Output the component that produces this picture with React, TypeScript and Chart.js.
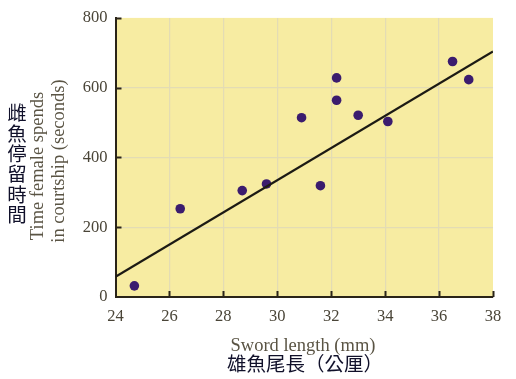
import React, { useEffect, useRef } from "react";
import { Chart, registerables } from "chart.js";

Chart.register(...registerables);

const swordLength = [24.7, 26.4, 28.7, 29.6, 30.9, 31.6, 32.2, 32.2, 33.0, 34.1, 36.5, 37.1];
const courtshipTime = [32, 253, 305, 324, 514, 319, 628, 564, 521, 503, 675, 623];
const fitX = [24, 38];
const fitY = [58, 704];
const xTicks = [24, 26, 28, 30, 32, 34, 36, 38];
const yTicks = [0, 200, 400, 600, 800];
const yTitleLines = ["Time female spends", "in courtship (seconds)"];
const xTitle = "Sword length (mm)";
const yTitleZh = "雌魚停留時間";
const xTitleZh = "雄魚尾長（公厘）";

const SERIF = "'Liberation Serif', 'DejaVu Serif', serif";
const CJK = "'Noto Sans CJK TC', 'Noto Sans CJK SC', sans-serif";

export default function App() {
  const ref = useRef<HTMLCanvasElement | null>(null);

  useEffect(() => {
    if (!ref.current) return;
    const decor = {
      id: "decor",
      beforeDraw(chart: any) {
        const { ctx, chartArea } = chart;
        ctx.save();
        ctx.fillStyle = "#f7eca2";
        ctx.fillRect(chartArea.left, chartArea.top, chartArea.right - chartArea.left, chartArea.bottom - chartArea.top);
        ctx.restore();
      },
      afterDraw(chart: any) {
        const { ctx, chartArea, scales } = chart;
        ctx.save();
        // inward tick marks
        ctx.strokeStyle = "#2a2418";
        ctx.lineWidth = 2;
        xTicks.forEach((v) => {
          if (v === xTicks[0]) return;
          const px = Math.round(scales.x.getPixelForValue(v)) + 0.5;
          ctx.beginPath();
          ctx.moveTo(px, chartArea.bottom);
          ctx.lineTo(px, chartArea.bottom - 6);
          ctx.stroke();
        });
        yTicks.forEach((v) => {
          if (v === yTicks[0]) return;
          const py = Math.round(scales.y.getPixelForValue(v)) + 0.5;
          ctx.beginPath();
          ctx.moveTo(chartArea.left, py);
          ctx.lineTo(chartArea.left + 6, py);
          ctx.stroke();
        });
        // titles
        ctx.fillStyle = "#5a5444";
        ctx.font = `18.5px ${SERIF}`;
        ctx.textAlign = "center";
        ctx.textBaseline = "middle";
        ctx.fillText(xTitle, 303, 346);
        ctx.save();
        ctx.translate(38, 166);
        ctx.rotate(-Math.PI / 2);
        ctx.fillText(yTitleLines[0], 0, 0);
        ctx.restore();
        ctx.save();
        ctx.translate(59, 161);
        ctx.rotate(-Math.PI / 2);
        ctx.fillText(yTitleLines[1], 0, 0);
        ctx.restore();
        // Chinese titles
        ctx.fillStyle = "#10102a";
        ctx.font = `19.5px ${CJK}`;
        ctx.fillText(xTitleZh, 305, 364);
        Array.from(yTitleZh).forEach((ch, i) => {
          ctx.fillText(ch, 17, 113 + i * 20.3);
        });
        ctx.restore();
      },
    };

    const chart = new Chart(ref.current, {
      type: "scatter",
      data: {
        datasets: [
          {
            type: "line",
            data: fitX.map((x, i) => ({ x, y: fitY[i] })),
            borderColor: "#1c1a14",
            borderWidth: 2.2,
            pointRadius: 0,
            fill: false,
          } as any,
          {
            data: swordLength.map((x, i) => ({ x, y: courtshipTime[i] })),
            backgroundColor: "#3b1c6e",
            borderColor: "#3b1c6e",
            borderWidth: 0,
            pointRadius: 4.8,
          },
        ],
      },
      options: {
        responsive: false,
        animation: false,
        layout: { padding: { left: 0, top: 16.5, right: 23, bottom: 0 } },
        plugins: { legend: { display: false }, tooltip: { enabled: false } },
        scales: {
          x: {
            type: "linear",
            min: 24,
            max: 38,
            afterBuildTicks: (s: any) => {
              s.ticks = xTicks.map((v) => ({ value: v }));
            },
            afterFit: (s: any) => {
              s.height = 82;
            },
            ticks: {
              padding: 10,
              color: "#4a4538",
              font: { family: SERIF, size: 16.5 },
              maxRotation: 0,
            },
            grid: {
              drawTicks: false,
              color: (c: any) =>
                c.tick && (c.tick.value === 38 || c.tick.value === 24) ? "rgba(0,0,0,0)" : "#e3dcb4",
              lineWidth: 1.2,
            },
            border: { display: true, color: "#2a2418", width: 2 },
          },
          y: {
            type: "linear",
            min: 0,
            max: 800,
            afterBuildTicks: (s: any) => {
              s.ticks = yTicks.map((v) => ({ value: v }));
            },
            afterFit: (s: any) => {
              s.width = 115.5;
            },
            ticks: {
              padding: 8,
              color: "#4a4538",
              font: { family: SERIF, size: 16.5 },
            },
            grid: {
              drawTicks: false,
              color: (c: any) =>
                c.tick && (c.tick.value === 800 || c.tick.value === 0) ? "rgba(0,0,0,0)" : "#e3dcb4",
              lineWidth: 1.2,
            },
            border: { display: true, color: "#2a2418", width: 2 },
          },
        },
      },
      plugins: [decor],
    });
    return () => chart.destroy();
  }, []);

  return (
    <div style={{ position: "absolute", left: 0, top: 0, width: 516, height: 379, background: "#ffffff" }}>
      <canvas ref={ref} width={516} height={379} style={{ width: 516, height: 379 }} />
    </div>
  );
}
